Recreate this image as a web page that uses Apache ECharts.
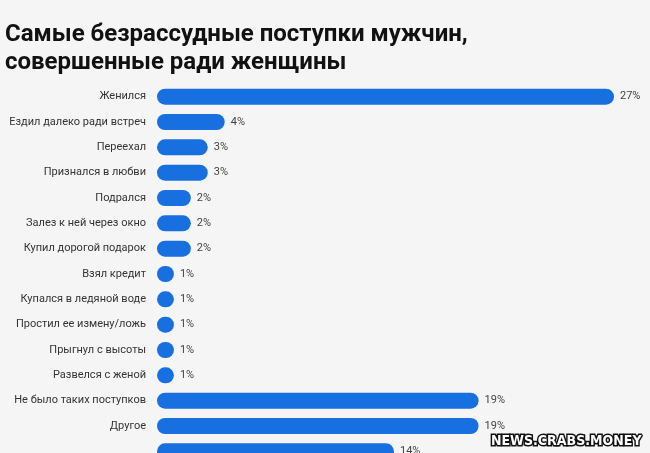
<!DOCTYPE html>
<html><head><meta charset="utf-8">
<script src="https://cdn.jsdelivr.net/npm/echarts@6/dist/echarts.min.js"></script>
<style>html,body{margin:0;padding:0;background:#f5f5f6;}#c{width:650px;height:453px;}</style>
</head><body><div id="c"></div>
<script>
const titleText = "Самые безрассудные поступки мужчин,\nсовершенные ради женщины";
const categories = ["Женился","Ездил далеко ради встреч","Переехал","Признался в любви","Подрался","Залез к ней через окно","Купил дорогой подарок","Взял кредит","Купался в ледяной воде","Простил ее измену/ложь","Прыгнул с высоты","Развелся с женой","Не было таких поступков","Другое",""];
const values = [27,4,3,3,2,2,2,1,1,1,1,1,19,19,14];
const watermark = "NEWS.CRABS.MONEY";

const chart = echarts.init(document.getElementById('c'), null, {renderer:'canvas'});
chart.setOption({
  backgroundColor:'#f5f5f6',
  animation:false,
  title:{text:titleText,left:0,top:16,textStyle:{fontFamily:'Roboto',fontSize:24,fontWeight:'bold',color:'#111',lineHeight:28}},
  grid:{left:157,top:84,width:457,height:380,outerBoundsMode:'none'},
  xAxis:{type:'value',min:0,max:27,show:false},
  yAxis:{type:'category',data:categories,inverse:true,
    axisLine:{show:false},axisTick:{show:false},
    axisLabel:{margin:11,fontFamily:'Roboto',fontSize:11,color:'#333'}},
  series:[{type:'bar',data:values,barWidth:16,
    itemStyle:{color:'#176fe0',borderRadius:8},
    label:{show:true,position:'right',distance:6,formatter:'{c}%',fontFamily:'Roboto',fontSize:11,color:'#444'}}],
  graphic:[{type:'text',right:7,bottom:3,style:{text:watermark,fontFamily:'DejaVu Sans Condensed',fontWeight:'bold',fontSize:14,fill:'#fff',stroke:'#111',lineWidth:3}}]
});
</script></body></html>
